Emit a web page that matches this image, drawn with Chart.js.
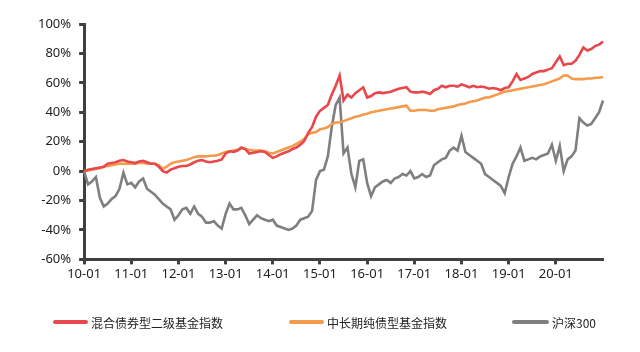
<!DOCTYPE html>
<html>
<head>
<meta charset="utf-8">
<script src="https://cdn.jsdelivr.net/npm/chart.js@4/dist/chart.umd.min.js"></script>
<style>
  body { margin: 0; background: #fff; }
  #wrap { position: relative; width: 640px; height: 352px; }
  .item { position: absolute; top: 313px; height: 18px; display: flex; align-items: center;
          font: 12px "Noto Sans CJK SC", sans-serif; color: #222; white-space: nowrap; }
  .item i { display: inline-block; height: 4px; border-radius: 2px; margin-right: 3px; }
</style>
</head>
<body>
<div id="wrap">
  <canvas id="chart" width="640" height="352"></canvas>
  <div id="legend"></div>
</div>
<script>
// month labels 10-01 ... 21-01
const years = ['10', '11', '12', '13', '14', '15', '16', '17', '18', '19', '20', '21'];
const monthNums = ['01', '02', '03', '04', '05', '06', '07', '08', '09', '10', '11', '12'];
const labels = [];
years.forEach(y => monthNums.forEach(m => labels.push(y + '-' + m)));
labels.length = 133;

const seriesNames = ['混合债券型二级基金指数', '中长期纯债型基金指数', '沪深300'];
const seriesColors = ['#e8484b', '#f39a4b', '#7f7f7f'];

// cumulative return, %, monthly
const hybridBond = [
  0, 1, 1.5, 2, 2.5, 3, 5, 5.5, 6, 7, 7.5, 6.5,
  6, 5.5, 6.5, 7, 6, 5, 5, 3, 0, -1, 1, 2,
  3, 3.5, 3.5, 4.5, 6, 7, 7.5, 6.5, 6, 6.5, 7, 8,
  12, 13.5, 13, 14, 16, 15, 12, 12.5, 13, 13.5, 13, 11,
  9, 10, 11.5, 12.5, 13.5, 15, 16, 18, 20.5, 26, 30, 37,
  41, 43, 45, 52, 58, 65, 48, 52, 50, 53, 55, 57,
  50, 51, 53, 53.5, 53, 53.5, 54, 55, 56, 56.5, 57, 54,
  53.5, 53.5, 54, 53.5, 52.5, 55, 56, 58, 57, 58, 58, 57.5,
  59, 58, 57, 58, 57, 57.5, 57, 56, 56.5, 56, 55, 56.5,
  57, 61, 66, 62, 63, 64, 66, 67, 68, 68, 69, 70,
  74, 78, 72, 73, 73, 75, 79, 84, 82, 83, 85, 86,
  88
];
const pureBond = [
  0, 0.5, 1, 1.5, 2, 3, 3.5, 4, 4.5, 5, 5, 5,
  5, 5, 5.5, 5.5, 5, 5, 5, 4, 1.5, 3, 5, 6,
  6.5, 7, 7.5, 8.5, 9.5, 10, 10, 10, 10.5, 10.5, 11, 12,
  13, 13.5, 14, 14.5, 15.5, 15, 14.5, 14, 14, 14, 13.5, 12.5,
  12, 13, 14, 15, 16, 17, 18.5, 20, 22, 25, 26, 26.5,
  28.5, 29, 30, 32, 33, 33, 34, 35, 36, 37, 37.5, 38.5,
  39, 40, 40.5, 41, 41.5, 42, 42.5, 43, 43.5, 44, 44.5, 41,
  41, 41.5, 41.5, 41.5, 41, 41, 42, 42.5, 43, 43.5, 44, 45,
  45.5, 46, 47, 47.5, 48, 49, 50, 50, 51, 52, 53, 54,
  54.5, 55, 55.5, 56, 56.5, 57, 57.5, 58, 58.5, 59, 60, 61,
  62, 63, 65, 65, 63, 62.5, 62.5, 62.5, 63, 63, 63.5, 63.5,
  64
];
const csi300 = [
  0, -9, -7, -4, -18, -24, -22, -19, -17, -12, -1, -9,
  -8, -11, -7, -5, -12, -14, -16, -19, -22, -24, -26, -33,
  -30, -26, -25, -29, -24, -29, -31, -35, -35, -34, -37, -39,
  -29, -22, -26, -26, -25, -30, -36, -33, -30, -32, -33, -34,
  -33, -37, -38, -39, -40, -39, -37, -33, -32, -31, -27, -6,
  0, 1, 10, 30, 45, 50, 12, 16, -2, -11, 7, 8,
  -8, -17, -11, -9, -7, -6, -8, -5, -4, -2, -3, 0,
  -5, -4, -2, -4, -3, 4, 6, 8, 9, 14, 16, 14,
  24, 13, 11, 9, 7, 5, -2, -4, -6, -8, -10, -15,
  -4, 5, 10, 16, 7, 8, 9, 8, 10, 11, 12, 18,
  7, 17, 0, 8, 10, 14, 36, 33, 31, 32, 36, 40,
  48
];
const yTicks = [-60, -40, -20, 0, 20, 40, 60, 80, 100];

const axisColor = '#404040';
const tickFont = { family: '"Noto Sans", sans-serif', size: 13 };
const isYearTick = i => i % 12 === 0 && i < 132;

const chart = new Chart(document.getElementById('chart'), {
  type: 'line',
  data: {
    labels: labels,
    datasets: [hybridBond, pureBond, csi300].map((data, i) => ({
      label: seriesNames[i],
      data: data,
      borderColor: seriesColors[i],
      backgroundColor: seriesColors[i],
      borderWidth: 2.6,
      pointRadius: 0,
      tension: 0,
      fill: false
    }))
  },
  options: {
    responsive: false,
    animation: false,
    devicePixelRatio: 1,
    layout: { padding: { left: 30, right: 37, top: 24, bottom: 68 } },
    plugins: { legend: { display: false }, tooltip: { enabled: false } },
    scales: {
      x: {
        grid: {
          drawOnChartArea: false,
          tickLength: 5,
          tickWidth: 3,
          tickColor: ctx => isYearTick(ctx.index) ? axisColor : 'rgba(0,0,0,0)'
        },
        border: { color: axisColor, width: 3 },
        ticks: {
          autoSkip: false,
          maxRotation: 0,
          padding: 2,
          color: '#222',
          font: tickFont,
          callback: (v, i) => isYearTick(i) ? labels[i] : ''
        }
      },
      y: {
        min: yTicks[0],
        max: yTicks[yTicks.length - 1],
        afterBuildTicks: axis => { axis.ticks = yTicks.map(v => ({ value: v })); },
        grid: { drawOnChartArea: false, tickLength: 5, tickWidth: 3, tickColor: axisColor },
        border: { color: axisColor, width: 3 },
        ticks: { padding: 8, color: '#222', font: tickFont, callback: v => v + '%' }
      }
    }
  }
});

// legend below the plot
const legendLeft = [53, 289, 512];
const legendBar = [35, 35, 37];
const legend = document.getElementById('legend');
chart.data.datasets.forEach((ds, i) => {
  const item = document.createElement('div');
  item.className = 'item';
  item.style.left = legendLeft[i] + 'px';
  item.innerHTML = '<i style="width:' + legendBar[i] + 'px;background:' + ds.borderColor + '"></i>' + ds.label;
  legend.appendChild(item);
});
</script>
</body>
</html>
